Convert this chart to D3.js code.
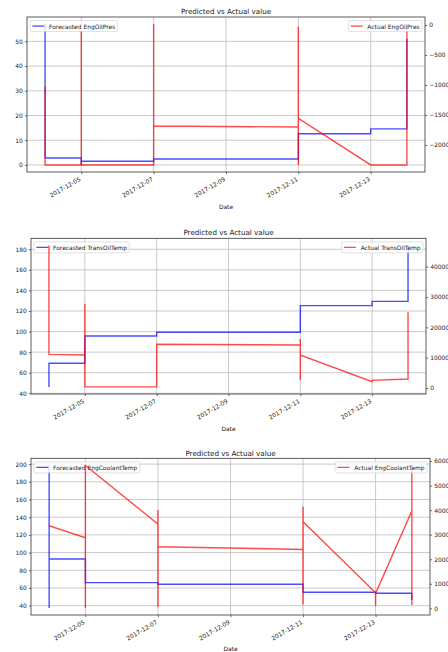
<!DOCTYPE html>
<html>
<head>
<meta charset="utf-8">
<script src="https://cdn.jsdelivr.net/npm/d3@7"></script>
<style>
  body { margin: 0; background: #fff; }
  svg text { font-family: "DejaVu Sans", sans-serif; fill: #222; }
</style>
</head>
<body>
<svg id="fig" width="448" height="652"></svg>
<script>
// Days with readings; each series lists the readings taken on each day, in order.
const days = ["2017-12-04", "2017-12-05", "2017-12-07", "2017-12-11", "2017-12-13", "2017-12-14"];
const tickDays = ["2017-12-05", "2017-12-07", "2017-12-09", "2017-12-11", "2017-12-13"];

const oilPresForecast = [[57.0, 2.8], [2.8, 0.0, 1.5], [1.5, 2.4], [2.4, 12.6], [12.6, 14.6], [14.6, 51.0]];
const oilPresActual = [[-1030, -2333], [-2333, -110, -2333], [-2333, 16, -1683], [-1700, -2333, -28, -1555], [-2333], [-2333, -50]];
const oilPresLeftTicks = [0, 10, 20, 30, 40, 50];
const oilPresRightTicks = [0, -500, -1000, -1500, -2000];

const transOilForecast = [[46.2, 69.2], [69.2, 95.7], [95.7, 99.3], [99.3, 125.2], [125.2, 129.4], [129.4, 183.8]];
const transOilActual = [[47000, 11100], [10880, 27800, 360], [400, 14400], [14180, 16150, 2640, 10880], [2080, 2540], [2970, 25000]];
const transOilLeftTicks = [40, 60, 80, 100, 120, 140, 160, 180];
const transOilRightTicks = [0, 10000, 20000, 30000, 40000];

const coolantForecast = [[37.5, 198.5, 92.7], [92.7, 66.0], [66.0, 64.2], [64.2, 55.1], [55.1, 54.0], [54.0, 46.4]];
const coolantActual = [[3365], [2876, 20, 5820], [3430, 4000, 60, 2510], [2400, 4140, 160, 3530], [635, 100, 610], [3975, 5700, 135]];
const coolantLeftTicks = [40, 60, 80, 100, 120, 140, 160, 180, 200];
const coolantRightTicks = [0, 1000, 2000, 3000, 4000, 5000, 6000];

const titleText = "Predicted vs Actual value";
const xLabel = "Date";

const panels = [
  { name: "EngOilPres", forecast: oilPresForecast, actual: oilPresActual,
    leftTicks: oilPresLeftTicks, rightTicks: oilPresRightTicks,
    box: { l: 27, r: 425, t: 17, b: 172 }, titleY: 13.6, labelY: 209.3 },
  { name: "TransOilTemp", forecast: transOilForecast, actual: transOilActual,
    leftTicks: transOilLeftTicks, rightTicks: transOilRightTicks,
    box: { l: 31, r: 426, t: 238.3, b: 394 }, titleY: 235, labelY: 430.8 },
  { name: "EngCoolantTemp", forecast: coolantForecast, actual: coolantActual,
    leftTicks: coolantLeftTicks, rightTicks: coolantRightTicks,
    box: { l: 31, r: 430, t: 458.3, b: 615 }, titleY: 456, labelY: 650.8 }
];

const parseDay = d3.timeParse("%Y-%m-%d");
const fmtDay = d3.timeFormat("%Y-%m-%d");
const FS = 5.95;           // base font size
const BLUE = "#0000ff", RED = "#ff0000";
const svg = d3.select("#fig");

// 5% padding on each side of the data range
function padded(lo, hi) {
  const s = hi - lo;
  return [lo - 0.05 * s, hi + 0.05 * s];
}

function toPoints(series) {
  const pts = [];
  series.forEach((vals, i) => vals.forEach(v => pts.push({ d: parseDay(days[i]), v })));
  return pts;
}

function legend(g, label, color, side, box) {
  const pad = 0.4 * FS, handle = 2 * FS, gap = 0.8 * FS, h = 11;
  const lg = g.append("g");
  const rect = lg.append("rect");
  const txt = lg.append("text").text(label).attr("font-size", FS).attr("dominant-baseline", "central");
  const w = pad + handle + gap + txt.node().getComputedTextLength() + pad;
  const x0 = side === "left" ? box.l + 0.5 * FS : box.r - 0.5 * FS - w;
  const y0 = box.t + 0.6 * FS;
  rect.attr("x", x0).attr("y", y0).attr("width", w).attr("height", h).attr("rx", 1.5)
    .attr("fill", "#fff").attr("fill-opacity", 0.8).attr("stroke", "#cccccc").attr("stroke-width", 0.6);
  lg.append("line").attr("x1", x0 + pad).attr("x2", x0 + pad + handle)
    .attr("y1", y0 + h / 2).attr("y2", y0 + h / 2)
    .attr("stroke", color).attr("stroke-opacity", 0.7).attr("stroke-width", 1.3);
  txt.attr("x", x0 + pad + handle + gap).attr("y", y0 + h / 2 + 0.3);
}

panels.forEach((p, idx) => {
  const { l, r, t, b } = p.box;
  const g = svg.append("g");
  const clipId = "clip" + idx;
  g.append("clipPath").attr("id", clipId).append("rect")
    .attr("x", l).attr("y", t).attr("width", r - l).attr("height", b - t);

  const fPts = toPoints(p.forecast), aPts = toPoints(p.actual);
  const dates = days.map(parseDay);
  const x = d3.scaleTime()
    .domain(padded(+d3.min(dates), +d3.max(dates)).map(ms => new Date(ms)))
    .range([l, r]);
  const yL = d3.scaleLinear().domain(padded(d3.min(fPts, d => d.v), d3.max(fPts, d => d.v))).range([b, t]);
  const yR = d3.scaleLinear().domain(padded(d3.min(aPts, d => d.v), d3.max(aPts, d => d.v))).range([b, t]);

  // grid
  const grid = g.append("g").attr("stroke", "#c0c0c0").attr("stroke-width", 0.85);
  tickDays.forEach(d => {
    const xx = x(parseDay(d));
    grid.append("line").attr("x1", xx).attr("x2", xx).attr("y1", t).attr("y2", b);
  });
  p.leftTicks.forEach(v => {
    grid.append("line").attr("x1", l).attr("x2", r).attr("y1", yL(v)).attr("y2", yL(v));
  });

  // forecast line (primary axes)
  g.append("path").datum(fPts)
    .attr("clip-path", `url(#${clipId})`)
    .attr("fill", "none").attr("stroke", BLUE).attr("stroke-opacity", 0.7).attr("stroke-width", 1.4)
    .attr("d", d3.line().x(d => x(d.d)).y(d => yL(d.v)));

  legend(g, "Forecasted " + p.name, BLUE, "left", p.box);

  // actual line (twin axes, drawn above the primary legend)
  g.append("path").datum(aPts)
    .attr("clip-path", `url(#${clipId})`)
    .attr("fill", "none").attr("stroke", RED).attr("stroke-opacity", 0.7).attr("stroke-width", 1.4)
    .attr("d", d3.line().x(d => x(d.d)).y(d => yR(d.v)));

  // frame
  g.append("rect").attr("x", l).attr("y", t).attr("width", r - l).attr("height", b - t)
    .attr("fill", "none").attr("stroke", "#333").attr("stroke-width", 0.8);

  const num = d3.format("d");
  const ax = g.append("g").attr("transform", `translate(${l},0)`)
    .call(d3.axisLeft(yL).tickValues(p.leftTicks).tickFormat(num).tickSize(2.1).tickPadding(2.1));
  const axR = g.append("g").attr("transform", `translate(${r},0)`)
    .call(d3.axisRight(yR).tickValues(p.rightTicks).tickFormat(num).tickSize(2.1).tickPadding(2.1));
  const axB = g.append("g").attr("transform", `translate(0,${b})`)
    .call(d3.axisBottom(x).tickValues(tickDays.map(parseDay)).tickFormat(fmtDay).tickSize(2.1));
  [ax, axR, axB].forEach(a => {
    a.select(".domain").remove();
    a.selectAll(".tick line").attr("stroke", "#333").attr("stroke-width", 0.7);
    a.selectAll(".tick text").attr("font-size", FS).attr("font-family", "DejaVu Sans").attr("fill", "#222");
  });
  axB.selectAll(".tick text")
    .attr("x", 0).attr("y", 0).attr("dy", null)
    .attr("text-anchor", "end")
    .attr("transform", "translate(-0.6,8.4) rotate(-30)");

  legend(g, "Actual " + p.name, RED, "right", p.box);

  g.append("text").attr("x", (l + r) / 2).attr("y", p.titleY).attr("text-anchor", "middle")
    .attr("font-size", 7.15).text(titleText);
  g.append("text").attr("x", (l + r) / 2).attr("y", p.labelY).attr("text-anchor", "middle")
    .attr("font-size", FS).text(xLabel);
});
</script>
</body>
</html>
